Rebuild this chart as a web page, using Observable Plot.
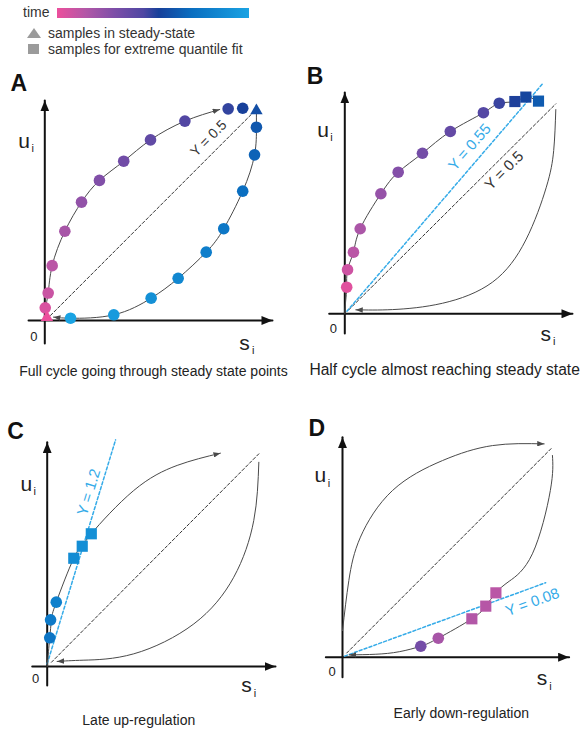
<!DOCTYPE html>
<html>
<head>
<meta charset="utf-8">
<script src="https://cdn.jsdelivr.net/npm/d3@7"></script>
<script src="https://cdn.jsdelivr.net/npm/@observablehq/plot@0.6"></script>
<style>
  html, body { margin: 0; padding: 0; background: #fff; }
  body { font-family: "Liberation Sans", Arial, sans-serif; color: #2a2a2a; }
  #root { position: relative; width: 584px; height: 731px; overflow: hidden; }
</style>
</head>
<body>
<div id="root"></div>
<script>
// ---------------- DATA ----------------
// time colour ramp (legend + sample colours)
const timeStops  = [0, 0.15, 0.30, 0.45, 0.53, 0.70, 1];
const timeColors = ["#ec4f9c", "#b257a7", "#7d4ea8", "#4f47a3", "#17409a", "#0a6ec0", "#1aa3e3"];

const legendItems = ["samples in steady-state", "samples for extreme quantile fit"];
const panelLetters = ["A", "B", "C", "D"];
const captions = [
  "Full cycle going through steady state points",
  "Half cycle almost reaching steady state",
  "Late up-regulation",
  "Early down-regulation"
];
const captionSizes = [14, 15.6, 14, 14];

// samples: s (spliced), u (unspliced), t (time 0..1), shape
const samplesA = [
  {s: 0.010, u: 0.015, t: 0.00, shape: "triangle"},
  {s: 0.002, u: 0.060, t: 0.05, shape: "circle"},
  {s: 0.016, u: 0.130, t: 0.09, shape: "circle"},
  {s: 0.035, u: 0.260, t: 0.13, shape: "circle"},
  {s: 0.095, u: 0.423, t: 0.18, shape: "circle"},
  {s: 0.174, u: 0.561, t: 0.24, shape: "circle"},
  {s: 0.259, u: 0.664, t: 0.29, shape: "circle"},
  {s: 0.374, u: 0.755, t: 0.34, shape: "circle"},
  {s: 0.501, u: 0.856, t: 0.39, shape: "circle"},
  {s: 0.664, u: 0.945, t: 0.44, shape: "circle"},
  {s: 0.869, u: 1.003, t: 0.49, shape: "circle"},
  {s: 0.938, u: 1.006, t: 0.53, shape: "circle"},
  {s: 1.003, u: 0.995, t: 0.58, shape: "triangle"},
  {s: 1.003, u: 0.916, t: 0.62, shape: "circle"},
  {s: 0.994, u: 0.785, t: 0.66, shape: "circle"},
  {s: 0.938, u: 0.613, t: 0.70, shape: "circle"},
  {s: 0.848, u: 0.435, t: 0.75, shape: "circle"},
  {s: 0.765, u: 0.324, t: 0.79, shape: "circle"},
  {s: 0.632, u: 0.200, t: 0.84, shape: "circle"},
  {s: 0.504, u: 0.106, t: 0.89, shape: "circle"},
  {s: 0.327, u: 0.027, t: 0.95, shape: "circle"},
  {s: 0.122, u: 0.011, t: 1.00, shape: "circle"}
];
const samplesB = [
  {s: 0.009, u: 0.126, t: 0.03, shape: "circle"},
  {s: 0.013, u: 0.209, t: 0.08, shape: "circle"},
  {s: 0.041, u: 0.292, t: 0.13, shape: "circle"},
  {s: 0.073, u: 0.403, t: 0.17, shape: "circle"},
  {s: 0.171, u: 0.569, t: 0.23, shape: "circle"},
  {s: 0.253, u: 0.671, t: 0.28, shape: "circle"},
  {s: 0.368, u: 0.761, t: 0.33, shape: "circle"},
  {s: 0.500, u: 0.864, t: 0.38, shape: "circle"},
  {s: 0.657, u: 0.953, t: 0.43, shape: "circle"},
  {s: 0.732, u: 0.998, t: 0.48, shape: "circle"},
  {s: 0.806, u: 1.006, t: 0.52, shape: "square"},
  {s: 0.858, u: 1.027, t: 0.55, shape: "square"},
  {s: 0.918, u: 1.008, t: 0.63, shape: "square"}
];
const samplesC = [
  {s: 0.012, u: 0.136, t: 0.74, shape: "circle"},
  {s: 0.016, u: 0.221, t: 0.77, shape: "circle"},
  {s: 0.043, u: 0.305, t: 0.80, shape: "circle"},
  {s: 0.126, u: 0.513, t: 0.87, shape: "square"},
  {s: 0.166, u: 0.570, t: 0.88, shape: "square"},
  {s: 0.209, u: 0.629, t: 0.89, shape: "square"}
];
const samplesD = [
  {s: 0.727, u: 0.305, t: 0.13, shape: "square"},
  {s: 0.679, u: 0.242, t: 0.14, shape: "square"},
  {s: 0.613, u: 0.182, t: 0.15, shape: "square"},
  {s: 0.454, u: 0.090, t: 0.18, shape: "circle"},
  {s: 0.371, u: 0.052, t: 0.33, shape: "circle"}
];

// trajectories [s, u]
const curveA_up   = [[0.010,0.015],[0.004,0.060],[0.016,0.130],[0.035,0.260],[0.095,0.423],[0.174,0.561],[0.259,0.664],[0.374,0.755],[0.501,0.856],[0.664,0.945],[0.829,1.000]];
const curveA_down = [[1.003,0.995],[1.003,0.916],[0.994,0.785],[0.938,0.613],[0.848,0.435],[0.765,0.324],[0.632,0.200],[0.504,0.106],[0.327,0.027],[0.122,0.011],[0.041,0.016]];
const curveB_up   = [[0,0],[0.004,0.060],[0.009,0.126],[0.013,0.209],[0.041,0.292],[0.073,0.403],[0.171,0.569],[0.253,0.671],[0.368,0.761],[0.500,0.864],[0.657,0.953],[0.732,0.998],[0.806,1.006],[0.858,1.027],[0.918,1.008]];
const curveB_down = [[1.000,0.968],[0.990,0.774],[0.955,0.600],[0.858,0.350],[0.700,0.150],[0.463,0.050],[0.226,0.020],[0.052,0.019]];
const curveC_up   = [[0,0],[0.006,0.070],[0.012,0.136],[0.020,0.221],[0.043,0.305],[0.126,0.513],[0.166,0.570],[0.209,0.629],[0.410,0.834],[0.616,0.953],[0.821,1.011]];
const curveC_down = [[1.003,0.968],[0.979,0.692],[0.884,0.423],[0.695,0.202],[0.410,0.060],[0.174,0.030],[0.047,0.024]];
const curveD_up   = [[0,0.126],[0.030,0.363],[0.085,0.569],[0.237,0.790],[0.474,0.932],[0.711,1.003],[0.956,1.011]];
const curveD_down = [[0.995,0.956],[0.985,0.790],[0.900,0.490],[0.790,0.360],[0.727,0.305],[0.679,0.242],[0.613,0.182],[0.454,0.090],[0.371,0.052],[0.269,0.026],[0.158,0.014],[0.032,0.011]];

// steady-state diagonal (gamma = 0.5) and extreme-quantile fits
const diagA = [[0.027,0.024],[0.989,0.987]];
const diagB = [[0.020,0.020],[1.000,0.995]];
const diagC = [[0.020,0.020],[1.003,1.008]];
const diagD = [[0.020,0.020],[0.995,0.995]];
const fitB  = [[0.010,0.012],[0.937,1.090]];
const fitC  = [[0.000,0.013],[0.324,1.074]];
const fitD  = [[0.010,0.005],[0.963,0.353]];

// gamma labels
const gammaLabels = [
  {panel: "A", text: "Y = 0.5",  s: 0.776, u: 0.863, angle: -45, kind: "ss"},
  {panel: "B", text: "Y = 0.55", s: 0.592, u: 0.790, angle: -49, kind: "fit"},
  {panel: "B", text: "Y = 0.5",  s: 0.755, u: 0.679, angle: -45, kind: "ss"},
  {panel: "C", text: "Y = 1.2",  s: 0.197, u: 0.826, angle: -73, kind: "fit"},
  {panel: "D", text: "Y = 0.08", s: 0.900, u: 0.261, angle: -20, kind: "fit"}
];

// ---------------- LAYOUT ----------------
const K = 211; // px per unit
const layouts = [
  {left: 0,   top: 60,  w: 292, h: 320, ox: 44.3, oy: 260,   axes: {sMin: -0.077, sMax: 1.079, uMin: -0.109, uMax: 1.043},
   letter: [-0.123, 1.122], uLab: [-0.098, 0.851], sLab: [0.947, -0.107], zero: [-0.052, -0.079], cap: [0.515, -0.242]},
  {left: 292, top: 60,  w: 292, h: 320, ox: 52.3, oy: 253.3, axes: {sMin: -0.074, sMax: 1.079, uMin: -0.093, uMax: 1.049},
   letter: [-0.141, 1.124], uLab: [-0.103, 0.870], sLab: [0.952, -0.095], zero: [-0.054, -0.071], cap: [0.473, -0.264]},
  {left: 0,   top: 400, w: 292, h: 331, ox: 46.7, oy: 266,   axes: {sMin: -0.071, sMax: 1.082, uMin: -0.090, uMax: 1.063},
   letter: [-0.150, 1.115], uLab: [-0.099, 0.866], sLab: [0.944, -0.090], zero: [-0.055, -0.058], cap: [0.434, -0.256]},
  {left: 292, top: 400, w: 292, h: 331, ox: 50,   oy: 256.7, axes: {sMin: -0.079, sMax: 1.074, uMin: -0.095, uMax: 1.043},
   letter: [-0.122, 1.082], uLab: [-0.105, 0.861], sLab: [0.945, -0.102], zero: [-0.049, -0.071], cap: [0.563, -0.268]}
];
const panelData = [
  {samples: samplesA, curves: [curveA_up, curveA_down], diag: diagA, fit: null},
  {samples: samplesB, curves: [curveB_up, curveB_down], diag: diagB, fit: fitB},
  {samples: samplesC, curves: [curveC_up, curveC_down], diag: diagC, fit: fitC},
  {samples: samplesD, curves: [curveD_up, curveD_down], diag: diagD, fit: fitD}
];
const curveArrow = [[true, true], [false, true], [true, true], [true, true]];

const FONT = "Liberation Sans, Arial, Helvetica, sans-serif";
const SVGNS = "http://www.w3.org/2000/svg";
const BLUE = "#35abe8";

function arrowHead(len, wid) {
  return (color, context) => {
    const doc = (context && context.document) || document;
    const m = doc.createElementNS(SVGNS, "marker");
    m.setAttribute("viewBox", `${-len} ${-wid / 2} ${len} ${wid}`);
    m.setAttribute("markerWidth", len);
    m.setAttribute("markerHeight", wid);
    m.setAttribute("markerUnits", "userSpaceOnUse");
    m.setAttribute("refX", 0);
    m.setAttribute("refY", 0);
    m.setAttribute("orient", "auto");
    const p = doc.createElementNS(SVGNS, "path");
    p.setAttribute("d", `M${-len},${-wid / 2}L0,0L${-len},${wid / 2}Z`);
    p.setAttribute("fill", color);
    p.setAttribute("stroke", "none");
    m.appendChild(p);
    return m;
  };
}

const root = document.getElementById("root");

// ---------------- LEGEND ----------------
function addDiv(style, text) {
  const d = document.createElement("div");
  Object.assign(d.style, style);
  if (text) d.textContent = text;
  root.appendChild(d);
  return d;
}
addDiv({position: "absolute", left: "23px", top: "4px", fontSize: "14px", lineHeight: "16px", color: "#333"}, "time");
addDiv({position: "absolute", left: "57px", top: "8px", width: "192px", height: "9.5px",
  background: `linear-gradient(to right, ${timeStops.map((t, i) => `${timeColors[i]} ${t * 100}%`).join(", ")})`});
addDiv({position: "absolute", left: "27px", top: "28px", width: "0", height: "0",
  borderLeft: "7px solid transparent", borderRight: "7px solid transparent", borderBottom: "10px solid #9b9b9b"});
addDiv({position: "absolute", left: "28px", top: "43.5px", width: "11px", height: "10px", background: "#9b9b9b"});
legendItems.forEach((txt, i) => {
  addDiv({position: "absolute", left: "48px", top: (i === 0 ? 25 : 41) + "px", fontSize: "14px", lineHeight: "16px", color: "#333", whiteSpace: "nowrap"}, txt);
});

// ---------------- PANELS ----------------
layouts.forEach((L, pi) => {
  const P = panelData[pi];
  const id = panelLetters[pi];
  const a = L.axes;
  const marks = [
    Plot.line([[a.sMin, 0], [a.sMax, 0]], {stroke: "#111", strokeWidth: 2, markerEnd: arrowHead(11, 9)}),
    Plot.line([[0, a.uMin], [0, a.uMax]], {stroke: "#111", strokeWidth: 2, markerEnd: arrowHead(11, 9)}),
    Plot.line(P.diag, {stroke: "#333", strokeWidth: 1, strokeDasharray: "3,2.2"})
  ];
  if (P.fit) marks.push(Plot.line(P.fit, {stroke: BLUE, strokeWidth: 1.5, strokeDasharray: "3,2.2"}));
  P.curves.forEach((c, ci) => {
    marks.push(Plot.line(c, {curve: "natural", stroke: "#4a4a4a", strokeWidth: 1,
      markerEnd: curveArrow[pi][ci] ? arrowHead(7, 5.5) : null}));
  });
  marks.push(
    Plot.dot(P.samples.filter(d => d.shape === "circle"), {x: "s", y: "u", r: 5.8, fill: "t"}),
    Plot.dot(P.samples.filter(d => d.shape === "square"), {x: "s", y: "u", r: 6.3, symbol: "square", fill: "t"}),
    Plot.dot(P.samples.filter(d => d.shape === "triangle"), {x: "s", y: "u", r: 4.6, symbol: "triangle", fill: "t"})
  );
  gammaLabels.filter(g => g.panel === id).forEach(g => {
    marks.push(Plot.text([g], {x: "s", y: "u", text: "text", rotate: g.angle, fontSize: g.panel === "A" ? 14 : 15,
      fill: g.kind === "fit" ? BLUE : "#333", fontFamily: FONT}));
  });
  marks.push(
    Plot.text([id], {x: () => L.letter[0], y: () => L.letter[1], text: d => d, fontSize: 23, fontWeight: "bold", fill: "#111", fontFamily: FONT}),
    Plot.text(["u"], {x: () => L.uLab[0], y: () => L.uLab[1], text: d => d, fontSize: 21, fill: "#222", fontFamily: FONT}),
    Plot.text(["i"], {x: () => L.uLab[0], y: () => L.uLab[1], text: d => d, dx: 8.5, dy: 7.5, fontSize: 11, fill: "#222", fontFamily: FONT}),
    Plot.text(["s"], {x: () => L.sLab[0], y: () => L.sLab[1], text: d => d, fontSize: 21, fill: "#222", fontFamily: FONT}),
    Plot.text(["i"], {x: () => L.sLab[0], y: () => L.sLab[1], text: d => d, dx: 8.5, dy: 7.5, fontSize: 11, fill: "#222", fontFamily: FONT}),
    Plot.text(["0"], {x: () => L.zero[0], y: () => L.zero[1], text: d => d, fontSize: 13, fill: "#222", fontFamily: FONT}),
    Plot.text([captions[pi]], {x: () => L.cap[0], y: () => L.cap[1], text: d => d, fontSize: captionSizes[pi], fill: "#222", fontFamily: FONT})
  );
  const svg = Plot.plot({
    width: L.w, height: L.h, margin: 0,
    style: {fontFamily: FONT, background: "transparent", overflow: "visible"},
    x: {domain: [0, 1], range: [L.ox, L.ox + K], axis: null},
    y: {domain: [0, 1], range: [L.oy, L.oy - K], axis: null},
    color: {type: "linear", domain: timeStops, range: timeColors, interpolate: "rgb"},
    marks
  });
  svg.style.position = "absolute";
  svg.style.left = L.left + "px";
  svg.style.top = L.top + "px";
  root.appendChild(svg);
});
</script>
</body>
</html>
